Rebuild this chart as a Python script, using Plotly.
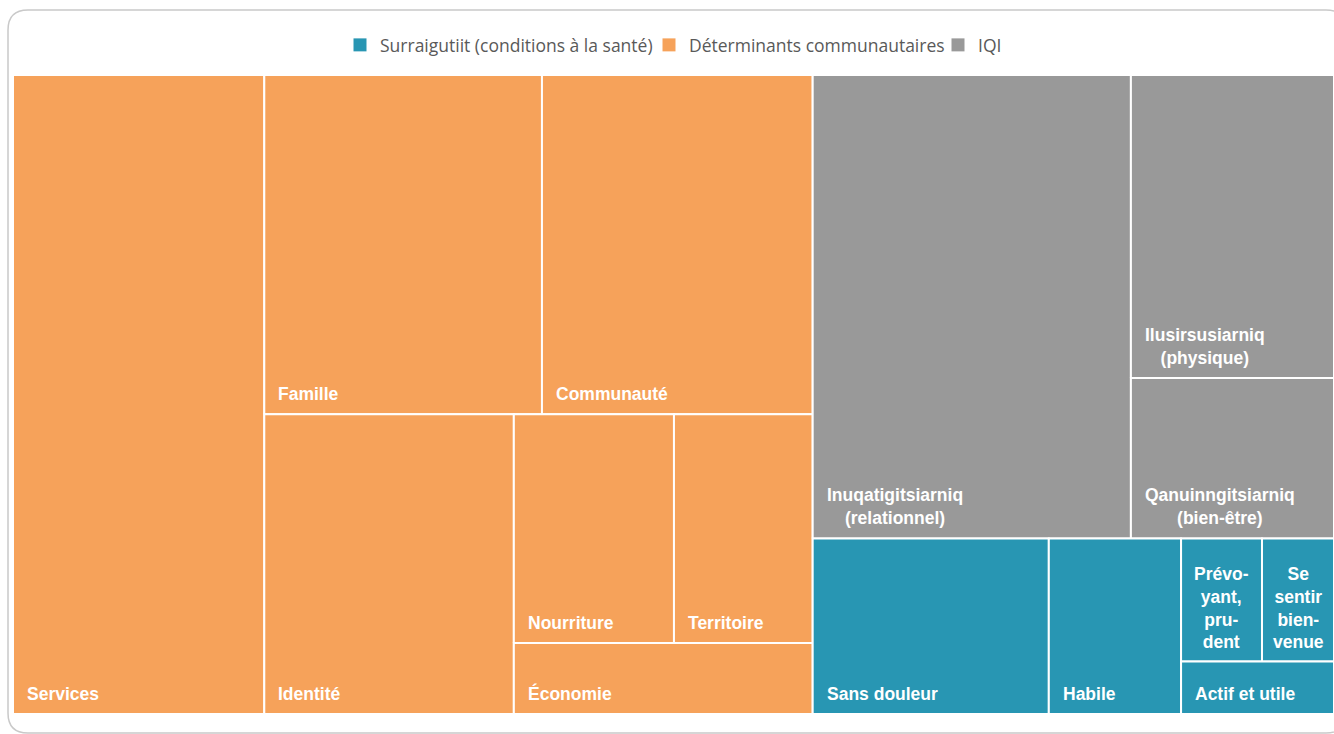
import plotly.graph_objects as go

# Groups (legend order) and their colours
groups = ["Surraigutiit (conditions à la santé)", "Déterminants communautaires", "IQI"]
group_colors = ["#2896B3", "#F6A25A", "#999999"]

# Leaves of each group (share of the total, %)
communautaires_labels = ["Services", "Famille", "Communauté", "Identité",
                         "Nourriture", "Territoire", "Économie"]
communautaires_values = [19.02, 11.16, 10.88, 8.86, 4.34, 3.76, 2.51]

iqi_labels = ["Inuqatigitsiarniq<br>(relationnel)", "Ilusirsusiarniq<br>(physique)",
              "Qanuinngitsiarniq<br>(bien-être)"]
iqi_values = [17.47, 7.29, 3.86]

surraigutiit_labels = ["Sans douleur", "Habile", "Prévo-<br>yant,<br>pru-<br>dent",
                       "Se<br>sentir<br>bien-<br>venue", "Actif et utile"]
surraigutiit_values = [4.91, 2.75, 1.18, 1.05, 0.95]

# Plot area in pixel-like units so that x and y share the same scale
W, H = 1321, 639
ml, mt, mb = 13, 75, 20


def strip_layout(values, rect, strips):
    """Lay values out in strips along the shorter side of the remaining rectangle.
    rect = (x0, y0, x1, y1) with y growing downwards."""
    x0, y0, x1, y1 = rect
    total = float(sum(values))
    out, i = [], 0
    for n in strips:
        chunk = values[i:i + n]
        s = float(sum(chunk))
        w, h = x1 - x0, y1 - y0
        if w > h:  # column on the left, items stacked top to bottom
            cw = w * s / total
            yy = y0
            for v in chunk:
                hh = h * v / s
                out.append((x0, yy, x0 + cw, yy + hh))
                yy += hh
            x0 += cw
        else:  # row along the top, items left to right
            rh = h * s / total
            xx = x0
            for v in chunk:
                ww = w * v / s
                out.append((xx, y0, xx + ww, y0 + rh))
                xx += ww
            y0 += rh
        total -= s
        i += n
    return out


group_data = {
    "Déterminants communautaires": (communautaires_labels, communautaires_values, [1, 2, 1, 2, 1]),
    "IQI": (iqi_labels, iqi_values, [1, 1, 1]),
    "Surraigutiit (conditions à la santé)": (surraigutiit_labels, surraigutiit_values, [1, 1, 2, 1]),
}
top_order = ["Déterminants communautaires", "IQI", "Surraigutiit (conditions à la santé)"]
top_values = [sum(group_data[g][1]) for g in top_order]
top_rects = strip_layout(top_values, (0, 0, W, H), [1, 1, 1])

# Narrow tiles whose wrapped label is centred
centred = {"Prévo-<br>yant,<br>pru-<br>dent", "Se<br>sentir<br>bien-<br>venue"}

fig = go.Figure()
annotations = []
color_of = dict(zip(groups, group_colors))

for g, grect in zip(top_order, top_rects):
    labels, values, strips = group_data[g]
    rects = strip_layout(values, grect, strips)
    for lab, (x0, y0, x1, y1) in zip(labels, rects):
        # flip to data coordinates (y up)
        yb, yt = H - y1, H - y0
        fig.add_trace(go.Scatter(
            x=[x0, x1, x1, x0, x0], y=[yb, yb, yt, yt, yb],
            mode="lines", fill="toself", fillcolor=color_of[g],
            line=dict(color="white", width=2),
            hoverinfo="text", text=lab.replace("<br>", " "),
            showlegend=False,
        ))
        if lab in centred:
            ax, xanchor, xshift = (x0 + x1) / 2, "center", 0
        else:
            ax, xanchor, xshift = x0, "left", 12
        annotations.append(dict(
            x=ax, y=yb, xref="x", yref="y", text=lab, showarrow=False,
            xanchor=xanchor, yanchor="bottom", xshift=xshift, yshift=8,
            align="center",
            font=dict(family="Liberation Sans, Arial, sans-serif", size=17.5,
                      color="white", weight="bold"),
        ))

# One legend per group so each entry sits at its own place on the top line
legend_left_px = [340, 649, 938]
legend_names = ["legend", "legend2", "legend3"]
legend_layouts = {}
for g, c, lname, lx in zip(groups, group_colors, legend_names, legend_left_px):
    fig.add_trace(go.Scatter(
        x=[None], y=[None], mode="markers", name=g, legend=lname,
        marker=dict(symbol="square", size=13, color=c),
    ))
    legend_layouts[lname] = dict(
        orientation="h", x=(lx - ml) / W, xanchor="left",
        y=1 + 30 / H, yanchor="middle",
        font=dict(family="Open Sans, sans-serif", size=17.5, color="#595959"),
        itemwidth=30, bgcolor="rgba(0,0,0,0)",
    )


# Rounded chart border (paper coordinates)
def px(xp):
    return (xp - ml) / W


def py(yp):
    return (mt + H - yp) / H


L, T, R, B, r = 8, 10, 1346, 733, 20
path = (f"M{px(L + r)},{py(T)} L{px(R - r)},{py(T)} "
        f"Q{px(R)},{py(T)} {px(R)},{py(T + r)} "
        f"L{px(R)},{py(B - r)} Q{px(R)},{py(B)} {px(R - r)},{py(B)} "
        f"L{px(L + r)},{py(B)} Q{px(L)},{py(B)} {px(L)},{py(B - r)} "
        f"L{px(L)},{py(T + r)} Q{px(L)},{py(T)} {px(L + r)},{py(T)} Z")

fig.update_layout(
    width=1334, height=734,
    margin=dict(l=ml, r=0, t=mt, b=mb, pad=0),
    paper_bgcolor="white", plot_bgcolor="white",
    xaxis=dict(range=[0, W], visible=False, fixedrange=True),
    yaxis=dict(range=[0, H], visible=False, fixedrange=True),
    annotations=annotations,
    shapes=[dict(type="path", xref="paper", yref="paper", path=path,
                 line=dict(color="#C9C9C9", width=1.5), layer="below")],
    hovermode="closest",
    **legend_layouts,
)

fig.write_html("out.html")
